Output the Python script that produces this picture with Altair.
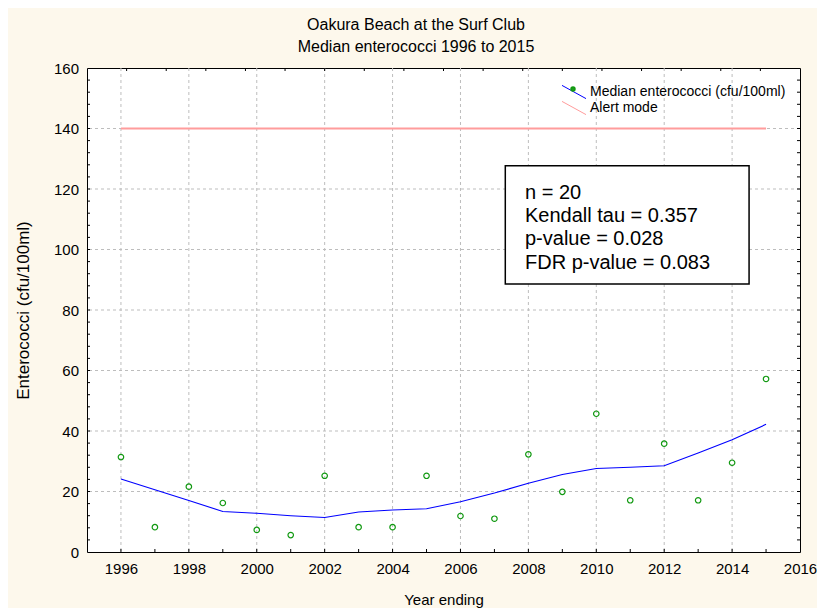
import altair as alt
import pandas as pd

# ---------------- data ----------------
years = list(range(1996, 2016))
median_enterococci = [31.4, 8.2, 21.6, 16.2, 7.3, 5.6, 25.2, 8.2, 8.2, 25.2,
                      11.9, 11.0, 32.3, 19.9, 45.7, 17.1, 35.8, 17.1, 29.5, 57.2]
smoothed_trend = [24.1, 20.6, 17.0, 13.4, 12.8, 12.0, 11.4, 13.2, 13.9, 14.3,
                  16.6, 19.5, 22.7, 25.6, 27.6, 28.0, 28.5, 32.7, 37.1, 42.2]
alert_years = [1996, 2015]
alert_level = [140, 140]

x_tick_labels = list(range(1996, 2017, 2))
y_tick_labels = list(range(0, 161, 20))
x_grid_values = list(range(1996, 2015, 2))
y_grid_values = list(range(20, 141, 20))
x_minor_ticks = list(range(1996, 2016))
y_minor_ticks = list(range(4, 160, 4))
top_minor_ticks = [1995 + k * 21 / 18 for k in range(1, 18)]

title_lines = ["Oakura Beach at the Surf Club", "Median enterococci 1996 to 2015"]
stats_lines = ["n = 20", "Kendall tau = 0.357", "p-value = 0.028", "FDR p-value = 0.083"]
series_median = "Median enterococci (cfu/100ml)"
series_alert = "Alert mode"

# ---------------- styling ----------------
FONT = "Liberation Sans"
W, H = 713, 484
PAD = {"left": 79, "top": 60, "right": 17, "bottom": 56}
X_DOM = [1995, 2016]
Y_DOM = [0, 160]
TICK_PX = 3
tick_x = TICK_PX * (X_DOM[1] - X_DOM[0]) / W
tick_y = TICK_PX * (Y_DOM[1] - Y_DOM[0]) / H

x_scale = alt.Scale(domain=X_DOM, nice=False, zero=False)
y_scale = alt.Scale(domain=Y_DOM, nice=False, zero=False)

x_axis = alt.Axis(values=x_tick_labels, format="d", title="Year ending",
                  titleFont=FONT, titleFontSize=15, titleFontWeight="normal",
                  titleColor="black", titlePadding=16,
                  labelFont=FONT, labelFontSize=15, labelColor="black",
                  labelPadding=9.5, ticks=False, domain=False, grid=False,
                  labelFlush=False, labelOverlap=False)
y_axis = alt.Axis(values=y_tick_labels, title="Enterococci (cfu/100ml)",
                  titleFont=FONT, titleFontSize=17, titleFontWeight="normal",
                  titleColor="black", titlePadding=21,
                  labelFont=FONT, labelFontSize=15, labelColor="black",
                  labelPadding=8.5, ticks=False, domain=False, grid=False,
                  labelFlush=False, labelOverlap=False)


def X(field="year"):
    return alt.X(f"{field}:Q", scale=x_scale, axis=x_axis)


def Y(field="value"):
    return alt.Y(f"{field}:Q", scale=y_scale, axis=y_axis)


def XD(v):
    return alt.XDatum(v, type="quantitative", scale=x_scale, axis=x_axis)


def YD(v):
    return alt.YDatum(v, type="quantitative", scale=y_scale, axis=y_axis)


points_df = pd.DataFrame({"year": years, "value": median_enterococci, "series": series_median})
trend_df = pd.DataFrame({"year": years, "value": smoothed_trend, "series": series_median})
alert_df = pd.DataFrame({"year": alert_years, "value": alert_level, "series": series_alert})

color_enc = alt.Color(
    "series:N",
    scale=alt.Scale(domain=[series_median, series_alert], range=["#0000ff", "#ff9c9c"]),
    legend=alt.Legend(orient="none", legendX=480, legendY=17, title=None,
                      symbolType="M-2,-1.1L2,1.1", symbolSize=144,
                      symbolStrokeWidth=1, labelFont=FONT, labelFontSize=14,
                      labelColor="black", labelOffset=9, labelLimit=0,
                      rowPadding=-2.8, padding=0),
)

# grid
xgrid = alt.Chart(pd.DataFrame({"year": x_grid_values})).mark_rule(
    color="#bdbdbd", strokeDash=[3, 3], strokeWidth=1).encode(x=X("year"))
ygrid = alt.Chart(pd.DataFrame({"value": y_grid_values})).mark_rule(
    color="#bdbdbd", strokeDash=[3, 3], strokeWidth=1).encode(y=Y("value"))

alert = alt.Chart(alert_df).mark_line(strokeWidth=2).encode(
    x=X(), y=Y(), color=color_enc)
trend = alt.Chart(trend_df).mark_line(strokeWidth=1.1).encode(
    x=X(), y=Y(), color=color_enc)
points = alt.Chart(points_df).mark_point(
    filled=False, color="#119911", size=30, strokeWidth=1.2, opacity=1).encode(
    x=X(), y=Y(),
    shape=alt.Shape("series:N", scale=alt.Scale(domain=[series_median], range=["circle"]),
                    legend=alt.Legend(orient="none", legendX=483, legendY=18, title=None,
                                      labelExpr="''", labelFontSize=1, labelOffset=0,
                                      symbolSize=6, symbolStrokeWidth=3,
                                      symbolStrokeColor="#119911", padding=0)),
)

box = alt.Chart(pd.DataFrame({"k": [0]})).mark_rect(
    fill="white", stroke="black", strokeWidth=1.5).encode(
    x=XD(2007.32), x2=alt.X2Datum(2014.5), y=YD(127.7), y2=alt.Y2Datum(88.6))
stats = alt.Chart(pd.DataFrame({"k": [0]})).mark_text(
    align="left", baseline="middle", font=FONT, fontSize=20, lineHeight=23.3,
    color="black").encode(x=XD(2007.9), y=YD(118.8), text=alt.value(stats_lines))

# inward ticks
bottom_ticks = alt.Chart(pd.DataFrame({"year": x_minor_ticks})).mark_rule(
    color="black").encode(x=X("year"), y=YD(Y_DOM[0]), y2=alt.Y2Datum(Y_DOM[0] + tick_y))
top_ticks = alt.Chart(pd.DataFrame({"year": top_minor_ticks})).mark_rule(
    color="black").encode(x=X("year"), y=YD(Y_DOM[1]), y2=alt.Y2Datum(Y_DOM[1] - tick_y))
left_ticks = alt.Chart(pd.DataFrame({"value": y_minor_ticks})).mark_rule(
    color="black").encode(y=Y("value"), x=XD(X_DOM[0]), x2=alt.X2Datum(X_DOM[0] + tick_x))
right_ticks = alt.Chart(pd.DataFrame({"value": y_minor_ticks})).mark_rule(
    color="black").encode(y=Y("value"), x=XD(X_DOM[1]), x2=alt.X2Datum(X_DOM[1] - tick_x))

chart = alt.layer(
    xgrid, ygrid, alert, trend, points, box, stats,
    bottom_ticks, top_ticks, left_ticks, right_ticks,
).properties(
    width=W, height=H,
    title=alt.TitleParams(text=title_lines, font=FONT, fontSize=16,
                          fontWeight="normal", color="black", anchor="middle",
                          frame="group", baseline="bottom", lineHeight=22,
                          offset=12, dx=-27.5, dy=22),
    autosize=alt.AutoSizeParams(type="none"),
    padding=PAD,
    background="#fdf8ec",
).configure_view(
    fill="white", stroke="black", strokeWidth=1,
)

chart.save("out.html", embed_options={"renderer": "svg", "actions": False})
